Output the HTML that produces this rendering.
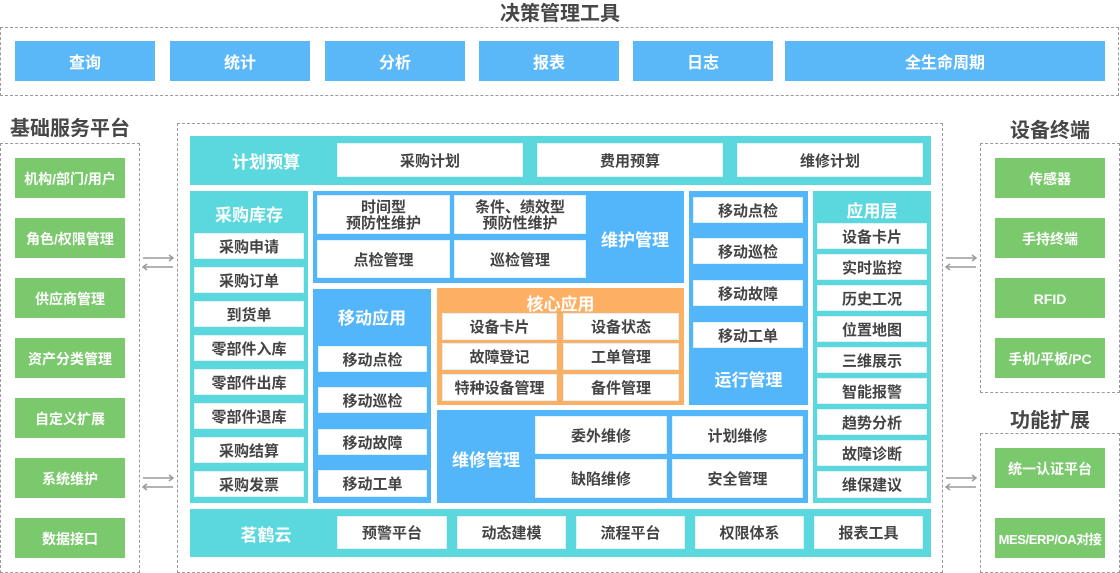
<!DOCTYPE html>
<html><head><meta charset="utf-8"><style>
*{margin:0;padding:0;box-sizing:border-box}
body{width:1120px;height:573px;background:#fff;position:relative;overflow:hidden;font-family:"Liberation Sans","Noto Sans CJK SC","WenQuanYi Zen Hei",sans-serif;font-weight:bold}
.a{position:absolute}
.f{position:absolute;display:flex;align-items:center;justify-content:center;white-space:nowrap;text-align:center}
.d{position:absolute;border:1px dashed #9a9a9a}
.t{color:#474747;font-size:20px}
.tb{background:#5bb8f8;color:#fff;font-size:16px}
.g{background:#7bc96d;color:#fff;font-size:14px;padding-top:1px}
.teal{background:#5bd8dd}
.blue{background:#53b6fb}
.or{background:#fdb063}
.w{background:#fff;border:1px solid #dff3f7;color:#444;font-size:15px;line-height:16px;padding-top:3px}
.pt{color:#fff;font-size:17px}
</style></head><body>

<!-- top -->
<div class="f t" style="left:460px;top:0;width:200px;height:22px">决策管理工具</div>
<div class="d" style="left:0;top:27px;width:1119px;height:69px"></div>
<div class="f tb" style="left:15px;top:41px;width:140px;height:40px">查询</div>
<div class="f tb" style="left:170px;top:41px;width:140px;height:40px">统计</div>
<div class="f tb" style="left:325px;top:41px;width:140px;height:40px">分析</div>
<div class="f tb" style="left:479px;top:41px;width:140px;height:40px">报表</div>
<div class="f tb" style="left:633px;top:41px;width:140px;height:40px">日志</div>
<div class="f tb" style="left:785px;top:41px;width:320px;height:40px">全生命周期</div>

<!-- left -->
<div class="f t" style="left:0;top:114px;width:140px;height:24px">基础服务平台</div>
<div class="d" style="left:0;top:143px;width:140px;height:430px"></div>
<div class="f g" style="left:15px;top:158px;width:110px;height:40px">机构/部门/用户</div>
<div class="f g" style="left:15px;top:218px;width:110px;height:40px">角色/权限管理</div>
<div class="f g" style="left:15px;top:278px;width:110px;height:40px">供应商管理</div>
<div class="f g" style="left:15px;top:338px;width:110px;height:40px">资产分类管理</div>
<div class="f g" style="left:15px;top:398px;width:110px;height:40px">自定义扩展</div>
<div class="f g" style="left:15px;top:458px;width:110px;height:40px">系统维护</div>
<div class="f g" style="left:15px;top:518px;width:110px;height:40px">数据接口</div>

<!-- right -->
<div class="f t" style="left:980px;top:116px;width:140px;height:24px">设备终端</div>
<div class="d" style="left:980px;top:143px;width:140px;height:250px"></div>
<div class="f g" style="left:995px;top:158px;width:110px;height:40px">传感器</div>
<div class="f g" style="left:995px;top:218px;width:110px;height:40px">手持终端</div>
<div class="f g" style="left:995px;top:278px;width:110px;height:40px">RFID</div>
<div class="f g" style="left:995px;top:338px;width:110px;height:40px">手机/平板/PC</div>
<div class="f t" style="left:980px;top:406px;width:140px;height:24px">功能扩展</div>
<div class="d" style="left:980px;top:433px;width:140px;height:140px"></div>
<div class="f g" style="left:995px;top:448px;width:110px;height:40px">统一认证平台</div>
<div class="f g" style="left:995px;top:518px;width:110px;height:40px;font-size:13px;letter-spacing:-0.4px">MES/ERP/OA对接</div>

<!-- arrows -->
<svg class="a" style="left:0;top:0" width="1120" height="573">
<g stroke="#9a9a9a" stroke-width="1.5" fill="none">
<line x1="143" y1="258" x2="173" y2="258"/><polyline points="169,255 173,258 169,261"/>
<line x1="143" y1="267" x2="173" y2="267"/><polyline points="147,264 143,267 147,270"/>
<line x1="143" y1="478" x2="173" y2="478"/><polyline points="169,475 173,478 169,481"/>
<line x1="143" y1="487" x2="173" y2="487"/><polyline points="147,484 143,487 147,490"/>
<line x1="946" y1="258" x2="976" y2="258"/><polyline points="972,255 976,258 972,261"/>
<line x1="946" y1="267" x2="976" y2="267"/><polyline points="950,264 946,267 950,270"/>
<line x1="946" y1="478" x2="976" y2="478"/><polyline points="972,475 976,478 972,481"/>
<line x1="946" y1="487" x2="976" y2="487"/><polyline points="950,484 946,487 950,490"/>
</g></svg>

<!-- main -->
<div class="d" style="left:177px;top:123px;width:766px;height:450px"></div>

<!-- 计划预算 -->
<div class="a teal" style="left:190px;top:136px;width:741px;height:49px"></div>
<div class="f pt" style="left:200px;top:148px;width:132px;height:24px">计划预算</div>
<div class="f w" style="left:337px;top:143px;width:186px;height:34px">采购计划</div>
<div class="f w" style="left:537px;top:143px;width:186px;height:34px">费用预算</div>
<div class="f w" style="left:737px;top:143px;width:186px;height:34px">维修计划</div>

<!-- 采购库存 -->
<div class="a teal" style="left:190px;top:191px;width:118px;height:312px"></div>
<div class="f pt" style="left:190px;top:201px;width:118px;height:24px">采购库存</div>
<div class="f w" style="left:194px;top:233px;width:110px;height:26px">采购申请</div>
<div class="f w" style="left:194px;top:267px;width:110px;height:26px">采购订单</div>
<div class="f w" style="left:194px;top:301px;width:110px;height:26px">到货单</div>
<div class="f w" style="left:194px;top:335px;width:110px;height:26px">零部件入库</div>
<div class="f w" style="left:194px;top:369px;width:110px;height:26px">零部件出库</div>
<div class="f w" style="left:194px;top:403px;width:110px;height:26px">零部件退库</div>
<div class="f w" style="left:194px;top:437px;width:110px;height:26px">采购结算</div>
<div class="f w" style="left:194px;top:471px;width:110px;height:26px">采购发票</div>

<!-- 维护管理 -->
<div class="a blue" style="left:313px;top:191px;width:371px;height:92px"></div>
<div class="f w" style="left:317px;top:195px;width:133px;height:39px">时间型<br>预防性维护</div>
<div class="f w" style="left:454px;top:195px;width:132px;height:39px">条件、绩效型<br>预防性维护</div>
<div class="f w" style="left:317px;top:240px;width:133px;height:38px">点检管理</div>
<div class="f w" style="left:454px;top:240px;width:132px;height:38px">巡检管理</div>
<div class="f pt" style="left:590px;top:226px;width:90px;height:24px">维护管理</div>

<!-- 移动应用 -->
<div class="a blue" style="left:313px;top:289px;width:118px;height:214px"></div>
<div class="f pt" style="left:313px;top:304px;width:118px;height:24px">移动应用</div>
<div class="f w" style="left:318px;top:346px;width:109px;height:26px">移动点检</div>
<div class="f w" style="left:318px;top:387px;width:109px;height:26px">移动巡检</div>
<div class="f w" style="left:318px;top:429px;width:109px;height:26px">移动故障</div>
<div class="f w" style="left:318px;top:470px;width:109px;height:27px">移动工单</div>

<!-- 核心应用 -->
<div class="a or" style="left:437px;top:288px;width:247px;height:117px"></div>
<div class="f pt" style="left:437px;top:290px;width:247px;height:24px">核心应用</div>
<div class="f w" style="left:442px;top:313px;width:115px;height:27px">设备卡片</div>
<div class="f w" style="left:563px;top:313px;width:116px;height:27px">设备状态</div>
<div class="f w" style="left:442px;top:343px;width:115px;height:27px">故障登记</div>
<div class="f w" style="left:563px;top:343px;width:116px;height:27px">工单管理</div>
<div class="f w" style="left:442px;top:374px;width:115px;height:27px">特种设备管理</div>
<div class="f w" style="left:563px;top:374px;width:116px;height:27px">备件管理</div>

<!-- 维修管理 -->
<div class="a blue" style="left:437px;top:410px;width:371px;height:93px"></div>
<div class="f pt" style="left:437px;top:446px;width:98px;height:24px">维修管理</div>
<div class="f w" style="left:535px;top:416px;width:132px;height:38px">委外维修</div>
<div class="f w" style="left:672px;top:416px;width:131px;height:38px">计划维修</div>
<div class="f w" style="left:535px;top:459px;width:132px;height:39px">缺陷维修</div>
<div class="f w" style="left:672px;top:459px;width:131px;height:39px">安全管理</div>

<!-- 运行管理 -->
<div class="a blue" style="left:689px;top:191px;width:119px;height:214px"></div>
<div class="f w" style="left:693px;top:197px;width:110px;height:26px">移动点检</div>
<div class="f w" style="left:693px;top:238px;width:110px;height:26px">移动巡检</div>
<div class="f w" style="left:693px;top:280px;width:110px;height:26px">移动故障</div>
<div class="f w" style="left:693px;top:322px;width:110px;height:26px">移动工单</div>
<div class="f pt" style="left:689px;top:366px;width:119px;height:24px">运行管理</div>

<!-- 应用层 -->
<div class="a teal" style="left:813px;top:191px;width:118px;height:312px"></div>
<div class="f pt" style="left:813px;top:197px;width:118px;height:24px">应用层</div>
<div class="f w" style="left:817px;top:223px;width:110px;height:26px">设备卡片</div>
<div class="f w" style="left:817px;top:254px;width:110px;height:26px">实时监控</div>
<div class="f w" style="left:817px;top:285px;width:110px;height:26px">历史工况</div>
<div class="f w" style="left:817px;top:316px;width:110px;height:26px">位置地图</div>
<div class="f w" style="left:817px;top:347px;width:110px;height:26px">三维展示</div>
<div class="f w" style="left:817px;top:378px;width:110px;height:26px">智能报警</div>
<div class="f w" style="left:817px;top:409px;width:110px;height:26px">趋势分析</div>
<div class="f w" style="left:817px;top:440px;width:110px;height:26px">故障诊断</div>
<div class="f w" style="left:817px;top:471px;width:110px;height:27px">维保建议</div>

<!-- 茗鹤云 -->
<div class="a teal" style="left:190px;top:509px;width:741px;height:48px"></div>
<div class="f pt" style="left:200px;top:521px;width:132px;height:24px">茗鹤云</div>
<div class="f w" style="left:337px;top:516px;width:110px;height:33px">预警平台</div>
<div class="f w" style="left:457px;top:516px;width:109px;height:33px">动态建模</div>
<div class="f w" style="left:576px;top:516px;width:109px;height:33px">流程平台</div>
<div class="f w" style="left:695px;top:516px;width:109px;height:33px">权限体系</div>
<div class="f w" style="left:814px;top:516px;width:109px;height:33px">报表工具</div>

</body></html>
